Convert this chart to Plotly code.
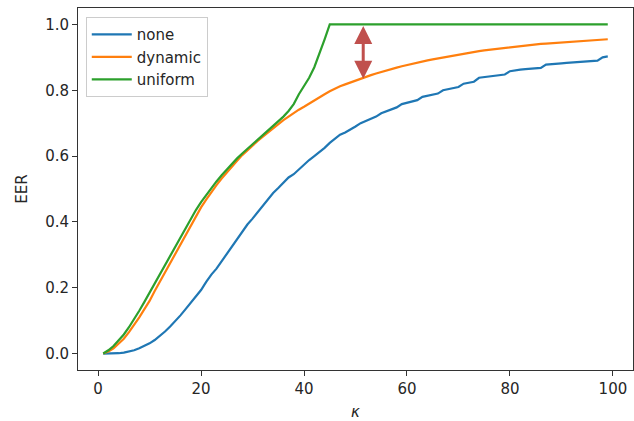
import plotly.graph_objects as go

kappa = list(range(1, 100))

none_eer = [
    0.000, 0.000, 0.000, 0.001, 0.003, 0.006, 0.010, 0.016, 0.023, 0.031,
    0.041, 0.053, 0.067, 0.082, 0.098, 0.116, 0.135, 0.154, 0.172, 0.193,
    0.218, 0.240, 0.258, 0.280, 0.302, 0.325, 0.345, 0.368, 0.392, 0.410,
    0.430, 0.450, 0.470, 0.488, 0.503, 0.520, 0.535, 0.545, 0.560, 0.572,
    0.588, 0.600, 0.612, 0.625, 0.640, 0.652, 0.665, 0.672, 0.680, 0.690,
    0.700, 0.706, 0.712, 0.720, 0.730, 0.736, 0.740, 0.748, 0.758, 0.762,
    0.765, 0.770, 0.780, 0.784, 0.787, 0.790, 0.800, 0.804, 0.806, 0.810,
    0.820, 0.823, 0.826, 0.838, 0.840, 0.842, 0.844, 0.846, 0.848, 0.858,
    0.861, 0.863, 0.864, 0.865, 0.866, 0.868, 0.878, 0.880, 0.881, 0.882,
    0.883, 0.884, 0.885, 0.886, 0.887, 0.888, 0.890, 0.900, 0.903,
]

dynamic_eer = [
    0.000, 0.006, 0.016, 0.030, 0.045, 0.065, 0.087, 0.110, 0.135, 0.160,
    0.190, 0.218, 0.246, 0.275, 0.303, 0.332, 0.360, 0.390, 0.418, 0.444,
    0.468, 0.491, 0.512, 0.532, 0.551, 0.569, 0.586, 0.603, 0.618, 0.632,
    0.646, 0.659, 0.672, 0.684, 0.697, 0.709, 0.720, 0.731, 0.741, 0.750,
    0.760, 0.770, 0.779, 0.788, 0.797, 0.805, 0.812, 0.818, 0.824, 0.830,
    0.836, 0.841, 0.846, 0.851, 0.856, 0.860, 0.865, 0.869, 0.873, 0.877,
    0.881, 0.884, 0.888, 0.891, 0.894, 0.897, 0.900, 0.903, 0.906, 0.909,
    0.912, 0.914, 0.917, 0.919, 0.921, 0.923, 0.925, 0.927, 0.929, 0.931,
    0.933, 0.935, 0.936, 0.938, 0.939, 0.941, 0.942, 0.943, 0.945, 0.946,
    0.947, 0.948, 0.949, 0.950, 0.951, 0.952, 0.953, 0.954, 0.955,
]

uniform_eer = [
    0.000, 0.010, 0.023, 0.040, 0.058, 0.080, 0.104, 0.130, 0.157, 0.185,
    0.213, 0.242, 0.270, 0.298, 0.326, 0.354, 0.382, 0.410, 0.436, 0.460,
    0.482, 0.503, 0.523, 0.542, 0.560, 0.577, 0.593, 0.608, 0.622, 0.636,
    0.649, 0.662, 0.675, 0.690, 0.705, 0.720, 0.737, 0.758, 0.788, 0.815,
    0.838, 0.870, 0.910, 0.955, 1.000, 1.000, 1.000, 1.000, 1.000, 1.000,
    1.000, 1.000, 1.000, 1.000, 1.000, 1.000, 1.000, 1.000, 1.000, 1.000,
    1.000, 1.000, 1.000, 1.000, 1.000, 1.000, 1.000, 1.000, 1.000, 1.000,
    1.000, 1.000, 1.000, 1.000, 1.000, 1.000, 1.000, 1.000, 1.000, 1.000,
    1.000, 1.000, 1.000, 1.000, 1.000, 1.000, 1.000, 1.000, 1.000, 1.000,
    1.000, 1.000, 1.000, 1.000, 1.000, 1.000, 1.000, 1.000, 1.000,
]

series_names = ["none", "dynamic", "uniform"]
series_values = [none_eer, dynamic_eer, uniform_eer]
series_colors = ["#1f77b4", "#ff7f0e", "#2ca02c"]

x_ticks = [0, 20, 40, 60, 80, 100]
y_ticks = [0.0, 0.2, 0.4, 0.6, 0.8, 1.0]
y_tick_labels = ["0.0", "0.2", "0.4", "0.6", "0.8", "1.0"]

arrow_k = 51.5
arrow_top = 1.0
arrow_bottom = 0.835

FONT = "DejaVu Sans"
TXT = "#262626"

fig = go.Figure()
for name, vals, col in zip(series_names, series_values, series_colors):
    fig.add_trace(go.Scatter(x=kappa, y=vals, mode="lines", name=name,
                             line=dict(color=col, width=2.2)))

fig.add_annotation(x=arrow_k, y=arrow_bottom, ax=arrow_k, ay=arrow_top,
                   xref="x", yref="y", axref="x", ayref="y", text="",
                   showarrow=True, arrowside="end+start",
                   arrowhead=2, startarrowhead=2, arrowsize=1.2, startarrowsize=1.2,
                   arrowwidth=3, arrowcolor="#c0504d")

axis_common = dict(showline=True, linecolor="#333333", linewidth=1, mirror=True,
                   ticks="outside", ticklen=5, tickwidth=1, tickcolor="#333333",
                   showgrid=False, zeroline=False, automargin=False,
                   tickfont=dict(family=FONT, size=15, color=TXT))

fig.update_xaxes(range=[-3.9, 103.9], tickvals=x_ticks,
                 title=dict(text="<i>κ</i>", font=dict(family=FONT, size=15, color=TXT), standoff=12),
                 **axis_common)
fig.update_yaxes(range=[-0.05, 1.05], tickvals=y_ticks, ticktext=y_tick_labels,
                 title=dict(text="EER", font=dict(family=FONT, size=15, color=TXT), standoff=13),
                 **axis_common)

fig.update_layout(
    width=634, height=421,
    margin=dict(l=78, r=1, t=8, b=51),
    paper_bgcolor="white", plot_bgcolor="white",
    font=dict(family=FONT, size=15, color=TXT),
    legend=dict(x=0.014, y=0.975, xanchor="left", yanchor="top", itemwidth=40,
                bgcolor="rgba(255,255,255,0.8)", bordercolor="#cccccc", borderwidth=1,
                font=dict(family=FONT, size=15, color=TXT)),
    showlegend=True,
)

fig.write_html("out.html", config={"displayModeBar": False},
               post_script="document.body.style.margin='0';document.body.style.padding='0';")
